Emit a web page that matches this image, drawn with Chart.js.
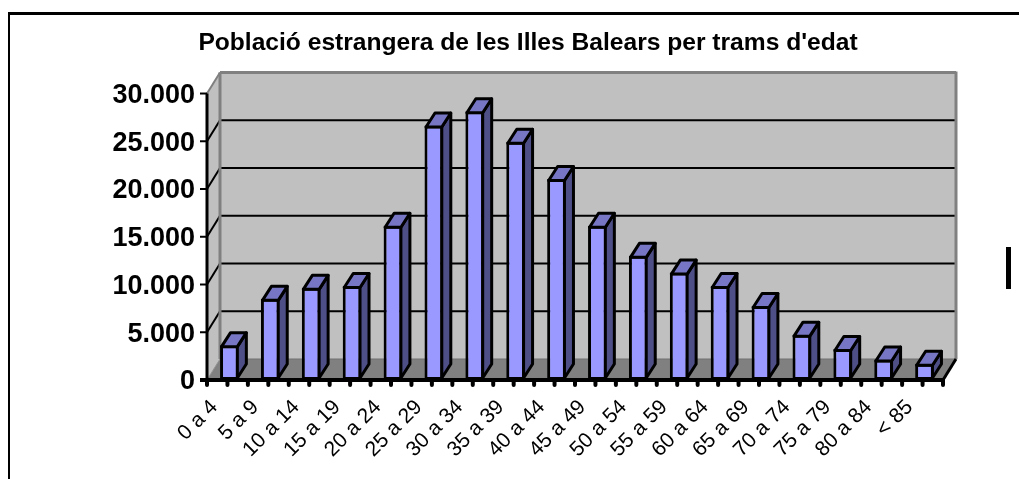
<!DOCTYPE html>
<html>
<head>
<meta charset="utf-8">
<title>Població estrangera</title>
<script src="https://cdn.jsdelivr.net/npm/chart.js@4"></script>
<style>
    html, body { margin: 0; padding: 0; background: #fff; overflow: hidden; }
    #myChart { position: absolute; left: 0; top: 0; }
    #frame { position: absolute; left: 8px; top: 12px; right: 0; bottom: 0; border-top: 3px solid #000; border-left: 2px solid #000; }
    #mark { position: absolute; left: 1006px; top: 247px; width: 5px; height: 42px; background: #000; }
</style>
</head>
<body>
<canvas id="myChart" width="1019" height="479"></canvas>
<div id="frame"></div>
<div id="mark"></div>
<script>
var chartTitle = "Població estrangera de les Illes Balears per trams d'edat";
var categories = ['0 a 4', '5 a 9', '10 a 14', '15 a 19', '20 a 24', '25 a 29', '30 a 34', '35 a 39', '40 a 44',
    '45 a 49', '50 a 54', '55 a 59', '60 a 64', '65 a 69', '70 a 74', '75 a 79', '80 a 84', '< 85'];
var population = [3650, 8500, 9650, 9850, 16150, 26650, 28150, 24950, 21050,
    16150, 13000, 11250, 9850, 7750, 4750, 3250, 2150, 1700];
var yTickLabels = ['0', '5.000', '10.000', '15.000', '20.000', '25.000', '30.000'];

// depth of the fake 3d box
var wallDx = 13, wallDy = 21;
var barDx = 9, barDy = 14;
// bars sit a bit to the right of their band in the original
var bandShift = 2;

function line(ctx, x1, y1, x2, y2, color, width, cap) {
    ctx.beginPath();
    ctx.moveTo(x1, y1);
    ctx.lineTo(x2, y2);
    ctx.strokeStyle = color;
    ctx.lineWidth = width;
    ctx.lineCap = cap || 'butt';
    ctx.stroke();
}

function face(ctx, pts, fill, stroke, width) {
    ctx.beginPath();
    ctx.moveTo(pts[0][0], pts[0][1]);
    for (var i = 1; i < pts.length; i++) ctx.lineTo(pts[i][0], pts[i][1]);
    ctx.closePath();
    ctx.fillStyle = fill;
    ctx.fill();
    if (stroke) {
        ctx.strokeStyle = stroke;
        ctx.lineWidth = width;
        ctx.lineJoin = 'round';
        ctx.stroke();
    }
}

var box3d = {
    id: 'box3d',
    beforeDatasetsDraw: function (chart) {
        var ctx = chart.ctx, area = chart.chartArea, yScale = chart.scales.y;
        var left = area.left - bandShift, right = area.right - bandShift;
        var top = area.top, bottom = area.bottom;
        ctx.save();
        // side wall, floor, back wall
        face(ctx, [[left, top], [left + wallDx, top - wallDy], [left + wallDx, bottom - wallDy], [left, bottom]], '#c0c0c0');
        face(ctx, [[left, bottom], [left + wallDx, bottom - wallDy], [right + wallDx, bottom - wallDy], [right, bottom]], '#808080');
        ctx.fillStyle = '#c0c0c0';
        ctx.fillRect(left + wallDx, top - wallDy, right - left, bottom - top);
        // grid lines
        for (var v = 5000; v < 30000; v += 5000) {
            var y = yScale.getPixelForValue(v);
            line(ctx, left, y, left + wallDx, y - wallDy, '#000', 2);
            line(ctx, left + wallDx, y - wallDy, right + wallDx, y - wallDy, '#000', 2);
        }
        // wall edges
        line(ctx, left, top, left + wallDx, top - wallDy, '#808080', 2);
        line(ctx, left + wallDx, top - wallDy, right + wallDx, top - wallDy, '#808080', 3);
        line(ctx, left + wallDx, top - wallDy, left + wallDx, bottom - wallDy, '#808080', 3);
        line(ctx, right + wallDx, top - wallDy - 1, right + wallDx, bottom - wallDy, '#808080', 3);
        line(ctx, left + wallDx, bottom - wallDy, right + wallDx, bottom - wallDy, '#707070', 1);
        line(ctx, left, bottom, left + wallDx, bottom - wallDy, '#909090', 1);
        ctx.restore();
    },
    afterDatasetsDraw: function (chart) {
        var ctx = chart.ctx, area = chart.chartArea;
        var yScale = chart.scales.y;
        var left = area.left - bandShift, right = area.right - bandShift, bottom = area.bottom;
        var bars = chart.getDatasetMeta(0).data;
        ctx.save();
        // top and side of each bar
        for (var i = 0; i < bars.length; i++) {
            var p = bars[i].getProps(['x', 'y', 'width', 'base'], true);
            var l = p.x - p.width / 2 + 1.5, r = p.x + p.width / 2 - 1.5, t = p.y + 1.5, b = p.base;
            face(ctx, [[r, b - 2], [r + barDx, b - 2 - barDy], [r + barDx, t - barDy], [r, t]], '#4f4f88', '#000', 3);
            face(ctx, [[l, t], [l + barDx, t - barDy], [r + barDx, t - barDy], [r, t]], '#7676c4', '#000', 3);
        }
        // axes and tick marks
        line(ctx, left, area.top, left, bottom, '#000', 3);
        yScale.ticks.forEach(function (tick) {
            var y = yScale.getPixelForValue(tick.value);
            line(ctx, left - 7, y, left, y, '#000', 2);
        });
        line(ctx, right, bottom, right + wallDx, bottom - wallDy, '#000', 3);
        line(ctx, left - 7, bottom, right, bottom, '#000', 4);
        var band = (right - left) / categories.length;
        for (var j = 0; j <= categories.length * 2; j++) {
            var x = left + j * band / 2;
            line(ctx, x, bottom, x, bottom + 5, '#000', 4, 'round');
        }
        ctx.restore();
    }
};

var ctx = document.getElementById('myChart').getContext('2d');

var chart = new Chart(ctx, {
    type: 'bar',
    plugins: [box3d],
    data: {
        labels: categories,
        datasets: [{
            label: 'Població',
            data: population,
            backgroundColor: '#9999ff',
            borderColor: '#000',
            borderWidth: 3,
            borderSkipped: false,
            categoryPercentage: 1,
            barPercentage: 0.46
        }]
    },
    options: {
        responsive: false,
        animation: false,
        layout: { padding: { left: 111, right: 74, top: 0, bottom: 0 } },
        plugins: {
            legend: { display: false },
            tooltip: { enabled: false },
            title: {
                display: true,
                text: chartTitle,
                color: '#000',
                font: { family: 'Liberation Sans', size: 24.6, weight: 'bold' },
                padding: { top: 28, bottom: 36 }
            }
        },
        scales: {
            x: {
                afterFit: function (scale) { scale.height = 99; },
                grid: { display: false },
                border: { display: false },
                ticks: {
                    color: '#000',
                    autoSkip: false,
                    minRotation: 45,
                    maxRotation: 45,
                    padding: 7,
                    labelOffset: -15,
                    font: { family: 'Liberation Sans', size: 21 }
                }
            },
            y: {
                min: 0,
                max: 30000,
                afterFit: function (scale) { scale.width = 98; },
                grid: { display: false, drawTicks: false },
                border: { display: false },
                ticks: {
                    stepSize: 5000,
                    color: '#000',
                    padding: 14,
                    labelOffset: 2,
                    font: { family: 'Liberation Sans', size: 27, weight: 'bold' },
                    callback: function (value, index) { return yTickLabels[index]; }
                }
            }
        }
    }
});
</script>
</body>
</html>
